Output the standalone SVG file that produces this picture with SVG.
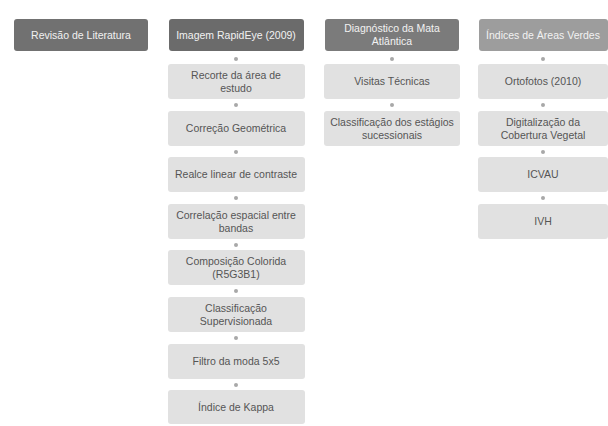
<svg xmlns="http://www.w3.org/2000/svg" width="608" height="426" viewBox="0 0 608 426">
<style>
.h rect{rx:3;ry:3}
.h text{fill:#f2f2f2;font-family:"Liberation Sans",Arial,sans-serif;font-size:10.5px;text-anchor:middle}
.s rect{fill:#e1e1e1;rx:3;ry:3}
.s text{fill:#555;font-family:"Liberation Sans",Arial,sans-serif;font-size:10.5px;text-anchor:middle}
#connectors circle{fill:#a8a8a8}
</style>
<rect width="608" height="426" fill="#fff"/>
<g id="connectors">
<circle cx="236" cy="59" r="2"/>
<circle cx="236" cy="105" r="2"/>
<circle cx="236" cy="152" r="2"/>
<circle cx="236" cy="198" r="2"/>
<circle cx="236" cy="245" r="2"/>
<circle cx="236" cy="291" r="2"/>
<circle cx="236" cy="338" r="2"/>
<circle cx="236" cy="385" r="2"/>
<circle cx="392" cy="59" r="2"/>
<circle cx="392" cy="105" r="2"/>
<circle cx="543" cy="59" r="2"/>
<circle cx="543" cy="105" r="2"/>
<circle cx="543" cy="152" r="2"/>
<circle cx="543" cy="198" r="2"/>
</g>
<g id="revisao" class="h"><rect x="14" y="19" width="134" height="32" fill="#717171"/><text x="81" y="39">Revisão de Literatura</text></g>
<g id="rapideye" class="h"><rect x="169" y="19" width="135" height="32" fill="#6b6b6b"/><text x="236" y="39">Imagem RapidEye (2009)</text></g>
<g id="diagnostico" class="h"><rect x="325" y="19" width="134" height="32" fill="#7b7b7b"/><text x="392" y="32">Diagnóstico da Mata</text><text x="392" y="45">Atlântica</text></g>
<g id="indices" class="h"><rect x="479" y="19" width="129" height="32" fill="#9d9d9d"/><text x="543" y="39">Índices de Áreas Verdes</text></g>

<g id="recorte" class="s"><rect x="168" y="64" width="137" height="35"/><text x="236" y="79">Recorte da área de</text><text x="236" y="92">estudo</text></g>
<g id="correcao" class="s"><rect x="168" y="111" width="137" height="35"/><text x="236" y="132">Correção Geométrica</text></g>
<g id="realce" class="s"><rect x="168" y="157" width="137" height="35"/><text x="236" y="178">Realce linear de contraste</text></g>
<g id="correlacao" class="s"><rect x="168" y="204" width="137" height="35"/><text x="236" y="219">Correlação espacial entre</text><text x="236" y="232">bandas</text></g>
<g id="composicao" class="s"><rect x="168" y="250" width="137" height="35"/><text x="236" y="265">Composição Colorida</text><text x="236" y="278">(R5G3B1)</text></g>
<g id="classificacao" class="s"><rect x="168" y="297" width="137" height="35"/><text x="236" y="312">Classificação</text><text x="236" y="325">Supervisionada</text></g>
<g id="filtro" class="s"><rect x="168" y="344" width="137" height="35"/><text x="236" y="365">Filtro da moda 5x5</text></g>
<g id="kappa" class="s"><rect x="168" y="390" width="137" height="34"/><text x="236" y="411">Índice de Kappa</text></g>

<g id="visitas" class="s"><rect x="324" y="64" width="136" height="35"/><text x="392" y="85">Visitas Técnicas</text></g>
<g id="estagios" class="s"><rect x="324" y="111" width="136" height="35"/><text x="392" y="126">Classificação dos estágios</text><text x="392" y="139">sucessionais</text></g>

<g id="ortofotos" class="s"><rect x="478" y="64" width="130" height="35"/><text x="543" y="85">Ortofotos (2010)</text></g>
<g id="digitalizacao" class="s"><rect x="478" y="111" width="130" height="35"/><text x="543" y="126">Digitalização da</text><text x="543" y="139">Cobertura Vegetal</text></g>
<g id="icvau" class="s"><rect x="478" y="157" width="130" height="35"/><text x="543" y="178">ICVAU</text></g>
<g id="ivh" class="s"><rect x="478" y="204" width="130" height="35"/><text x="543" y="225">IVH</text></g>
</svg>
